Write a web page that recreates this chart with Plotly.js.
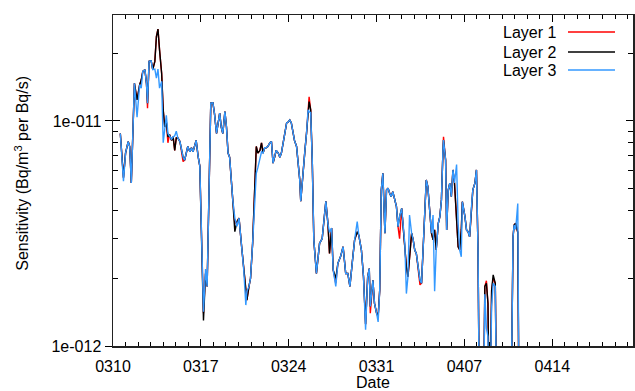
<!DOCTYPE html>
<html><head><meta charset="utf-8">
<script src="https://cdn.plot.ly/plotly-3.0.1.min.js"></script>
<style>html,body{margin:0;padding:0;background:#fff}#chart{width:635px;height:391px}</style>
</head><body><div id="chart"></div>
<script>
// ---- data ----
const START_UTC = Date.UTC(2011, 2, 10, 0, 0, 0);   // 0310 00:00
const UNIT = 1e-12;                                   // values below are in units of 1e-12
const hoursFromStart = [
 14,18,20,24,29,32,35,41,46,51,
 54,57,61,64,66,69,73,76,80,83,
 86,89,93,96,99,102,105,108,112,115,
 118,121,124,128,131,134,137,140,143,147,
 150,153,156,159,163,166,173,177,180,187,
 191,194,198,201,204,207,210,214,217,220,
 223,229,233,237,241,246,250,254,256,260,
 263,267,271,274,277,281,284,287,290,293,
 296,300,303,306,309,312,316,319,322,325,
 328,332,335,338,341,344,347,351,354,357,
 359,362,367,370,373,375,378,381,384,389,
 395,400,407,411,414,418,421,426,430,435,
 440,445,449,453,458,462,467,470,475,479,
 483,487,490,492,497,500,504,507,510,513,
 516,520,523,526,529,532,535,539,542,545,
 548,552,555,558,561,564,567,571,574,577,
 580,583,587,590,593,596,599,602,606,609,
 612,615,618,622,625,628,631,632,636,638,
 641,644,647,650,653,657,660,663,666,668,
 673,676,679,682,685,688,692,695,698,701,
 708,711,714,717,720,724,727,731,734,760,
 765,767,770,774,777];

const layer1 = [
 8.8,6.3,5.6,7.2,8.1,7.7,5.3,14.7,12.4,14.5,
 15.2,16.6,16.9,14.7,11.4,18.4,18.5,16.9,18.4,23.7,
 25.6,20.7,16.3,11.2,9.4,9.9,8.0,8.7,8.2,8.5,
 7.4,8.4,8.4,8.1,7.3,6.6,6.7,7.3,7.7,7.3,
 7.6,7.3,7.7,8.2,6.9,6.3,1.4,2.1,1.84,12.0,
 12.05,10.8,8.8,10.1,10.85,9.4,8.8,11.0,9.4,7.2,
 6.9,4.46,3.5,3.57,3.7,2.76,2.18,1.71,1.6,1.84,
 2.0,2.86,4.77,7.7,7.2,7.4,8.0,7.2,7.6,7.6,
 7.7,8.0,8.1,6.5,6.9,7.4,7.2,6.9,7.2,8.0,
 8.8,9.8,9.9,10.1,9.8,9.0,8.2,7.7,6.7,5.5,
 4.4,5.5,7.4,8.8,11.5,12.8,11.2,6.7,2.96,2.1,
 2.86,3.0,4.4,3.5,2.58,3.34,2.18,1.9,2.33,2.49,
 2.76,2.1,2.1,1.84,2.41,2.96,3.22,3.11,2.67,2.03,
 1.25,2.03,2.21,1.4,1.96,1.55,1.4,1.35,1.77,4.93,
 5.86,3.17,4.93,5.02,4.77,4.61,4.85,4.38,4.16,3.39,
 3.0,4.09,3.28,2.86,2.25,2.03,2.41,3.17,2.96,2.67,
 2.58,2.25,1.87,1.9,2.67,4.02,5.47,5.11,3.76,3.17,
 2.96,3.28,2.67,3.51,3.76,4.46,7.43,8.5,6.71,3.28,
 4.93,5.29,4.61,6.06,5.29,3.76,2.76,2.67,3.28,4.38,
 3.76,3.28,3.22,3.06,4.02,4.93,5.29,6.06,2.67,0.4,
 0.4,1.84,1.95,1.55,0.4,1.77,2.0,1.9,0.4,0.3,
 3.06,3.45,3.51,3.2,0.3];

const layer2 = [
 8.8,6.3,5.6,7.2,8.1,7.7,5.3,14.7,12.4,14.5,
 15.2,16.6,16.9,14.7,12.0,18.4,18.5,16.9,18.4,23.7,
 25.6,20.7,16.3,11.2,9.4,9.9,8.5,8.7,8.2,8.5,
 7.4,8.4,8.4,8.1,7.3,6.9,6.7,7.3,7.7,7.3,
 7.6,7.3,7.7,8.2,6.9,6.3,1.3,2.1,1.84,12.0,
 12.05,10.8,8.8,10.1,10.85,9.4,8.8,11.0,9.4,7.2,
 6.9,4.46,3.22,3.57,3.7,2.76,2.18,1.71,1.6,1.84,
 2.0,2.86,4.77,7.7,7.2,7.4,8.0,7.2,7.6,7.6,
 7.7,8.0,8.1,6.5,6.9,7.4,7.2,6.9,7.2,8.0,
 8.8,9.8,9.9,10.1,9.8,9.0,8.2,7.7,6.7,5.5,
 4.4,5.5,7.4,8.8,11.2,12.2,11.2,6.7,2.96,2.1,
 2.86,3.0,4.4,3.5,2.58,3.34,2.18,2.0,2.33,2.49,
 2.76,2.1,2.1,1.84,2.41,2.96,3.22,3.11,2.67,2.03,
 1.25,2.03,2.21,1.5,1.96,1.55,1.4,1.35,1.77,4.93,
 5.86,3.17,4.93,5.02,4.77,4.61,4.85,4.38,4.16,3.39,
 3.76,4.09,3.28,2.86,2.25,2.03,2.41,3.17,2.96,2.67,
 2.58,2.25,1.96,1.9,2.67,4.02,5.47,5.11,3.76,3.17,
 2.96,3.28,2.67,3.51,3.76,4.46,7.43,8.23,6.71,3.28,
 4.93,5.29,4.61,6.06,5.29,3.76,2.76,2.67,3.28,4.38,
 3.76,3.28,3.22,3.06,4.02,4.93,5.29,6.06,2.67,0.4,
 0.4,1.84,1.9,1.55,0.4,1.77,2.07,1.9,0.4,0.3,
 3.06,3.45,3.51,3.2,0.3];

const layer3 = [
 8.8,6.3,5.4,7.2,8.1,7.7,5.3,14.7,10.4,14.5,
 14.0,16.6,16.9,14.7,12.0,18.4,18.5,16.9,17.0,15.5,
 17.0,14.0,15.0,8.0,9.4,10.6,8.8,8.6,8.3,8.5,
 8.6,9.0,8.4,8.1,7.3,6.9,6.7,7.3,7.7,7.3,
 7.6,7.3,7.7,8.2,6.9,6.3,1.42,2.2,1.84,12.0,
 12.05,10.8,8.8,10.1,10.85,9.4,8.8,11.0,9.4,7.2,
 6.9,4.46,3.7,3.4,3.7,2.76,2.18,1.52,1.75,1.84,
 2.0,2.86,4.77,5.86,6.2,6.7,7.3,7.2,7.6,7.6,
 7.7,8.0,8.1,6.5,6.9,7.4,7.2,6.9,7.2,8.0,
 8.8,9.8,9.9,10.1,9.8,9.0,8.2,7.7,6.7,5.5,
 4.4,5.5,7.4,8.8,11.2,11.0,10.9,6.7,2.96,2.1,
 2.86,3.0,4.4,3.5,3.2,3.34,2.18,1.84,2.33,2.49,
 2.76,2.1,2.1,1.84,2.41,2.96,3.57,3.11,2.67,2.03,
 1.18,2.03,2.21,1.5,1.96,1.55,1.4,1.28,1.77,4.93,
 5.86,3.17,4.93,5.02,4.77,4.61,4.85,4.38,4.16,3.39,
 3.76,4.09,3.28,2.86,1.71,2.03,3.82,3.17,2.96,2.67,
 2.58,2.25,1.96,1.9,2.67,4.02,5.47,5.11,3.76,3.17,
 3.82,1.75,2.67,3.51,3.76,4.46,7.43,8.23,6.71,3.28,
 4.93,5.29,4.61,6.06,5.3,6.4,3.5,2.67,2.49,4.38,
 3.76,3.28,3.22,3.06,4.02,4.93,5.29,6.06,2.67,0.4,
 0.4,1.7,1.2,1.1,0.4,1.5,1.9,1.84,0.4,0.3,
 3.06,3.45,3.3,4.3,0.3];

const seriesNames = ['Layer 1', 'Layer 2', 'Layer 3'];
const seriesColors = ['#ff0000', '#000000', '#3399ff'];
const xTitle = 'Date';
const yTitle = 'Sensitivity (Bq/m<sup>3</sup> per Bq/s)';
const xRange = ['2011-03-10 00:00', '2011-04-20 10:20'];
const yTickVals = [1e-12, 1e-11];
const yTickText = ['1e-012', '1e-011'];
const yMinorVals = [2e-12,3e-12,4e-12,5e-12,6e-12,7e-12,8e-12,9e-12,2e-11,3e-11];
const yRangeLog = [-12, -10.529];

// ---- build ----
function fmt(ms){ return new Date(ms).toISOString().slice(0,19).replace('T',' '); }
const xDates = hoursFromStart.map(h => fmt(START_UTC + h*3600000));
const allSeries = [layer1, layer2, layer3];
const FONT = 'Liberation Sans, Arial, Helvetica, sans-serif';

const traces = allSeries.map((s, i) => ({
  type: 'scatter', mode: 'lines', name: seriesNames[i],
  x: xDates, y: s.map(v => v*UNIT),
  line: {color: seriesColors[i], width: 1.4},
  showlegend: false, hoverinfo: 'skip'
}));
// empty traces so the tick-only overlay axes are drawn
traces.push({type:'scatter', mode:'lines', x: [], y: [], yaxis: 'y2', showlegend:false, hoverinfo:'skip'});
traces.push({type:'scatter', mode:'lines', x: [], y: [], yaxis: 'y3', showlegend:false, hoverinfo:'skip'});

const legendY = [0.9486, 0.888, 0.8338];
const annotations = seriesNames.map((n, i) => ({
  xref:'paper', yref:'paper', x: 0.8558, y: legendY[i], xanchor:'right', yanchor:'middle',
  text: n, showarrow:false, font:{family:FONT, size:16, color:'#000'}
}));
annotations.push({xref:'paper', yref:'paper', x:0.5, y:-0.1088, xanchor:'center', yanchor:'middle',
  text: xTitle, showarrow:false, font:{family:FONT, size:16, color:'#000'}});
annotations.push({xref:'paper', yref:'paper', x:-0.1755, y:0.5227, xanchor:'center', yanchor:'middle',
  textangle:-90, text: yTitle, showarrow:false, font:{family:FONT, size:16, color:'#000'}});

const shapes = seriesNames.map((n, i) => ({
  type:'line', xref:'paper', yref:'paper', x0: 0.875, x1: 0.9654, y0: legendY[i], y1: legendY[i],
  line:{color: seriesColors[i], width: 1.4}
}));

const layout = {
  width: 635, height: 391,
  margin: {l:113, r:2, t:15, b:45},
  paper_bgcolor:'#fff', plot_bgcolor:'#fff',
  font: {family: FONT, size: 16, color:'#000'},
  xaxis: {
    type:'date', range: xRange,
    tickmode:'linear', tick0:'2011-03-10', dtick: 7*86400000, tickformat:'%m%d',
    ticks:'inside', ticklen:7, tickwidth:1, tickcolor:'#000',
    minor: {dtick: 86400000, tick0:'2011-03-10', ticks:'inside', ticklen:4, tickwidth:1, tickcolor:'#000', showgrid:false},
    showline:true, linecolor:'#222', linewidth:1.5, mirror:'ticks',
    showgrid:false, zeroline:false, tickfont:{size:16},
    ticklabelstandoff: 5
  },
  yaxis: {
    type:'log', range: yRangeLog,
    tickmode:'array', tickvals: yTickVals, ticktext: yTickText,
    ticks:'inside', ticklen:7, tickwidth:1, tickcolor:'#000',
    showline:true, linecolor:'#222', linewidth:1.5, mirror:'ticks',
    showgrid:false, zeroline:false, tickfont:{size:16},
    ticklabelstandoff: 7
  },
  yaxis2: {
    type:'log', range: yRangeLog, overlaying:'y', side:'left',
    tickmode:'array', tickvals: yMinorVals, showticklabels:false,
    ticks:'inside', ticklen:5, tickwidth:1, tickcolor:'#000',
    showline:false, mirror:'ticks', showgrid:false, zeroline:false
  },
  yaxis3: {
    type:'log', range: yRangeLog, overlaying:'y', side:'left',
    tickmode:'array', tickvals: yTickVals, showticklabels:false,
    ticks:'outside', ticklen:7, tickwidth:1, tickcolor:'#000',
    showline:false, showgrid:false, zeroline:false
  },
  annotations, shapes
};

Plotly.newPlot('chart', traces, layout, {displayModeBar:false, staticPlot:true});
</script></body></html>
